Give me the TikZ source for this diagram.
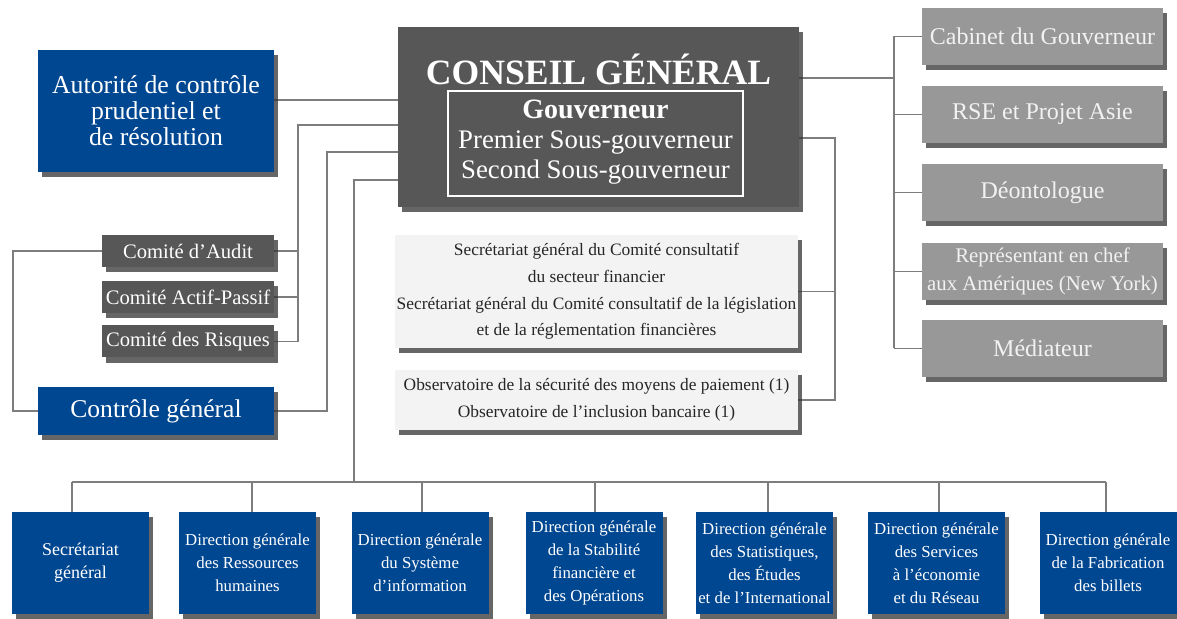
\documentclass[tikz,border=0pt]{standalone}
\usepackage{fontspec}
\setmainfont{Liberation Serif}
\usetikzlibrary{shadows, backgrounds}
\definecolor{bdfblue}{RGB}{0,71,145}
\definecolor{bdfdark}{RGB}{87,87,87}
\definecolor{bdfgrey}{RGB}{152,152,152}
\definecolor{bdflight}{RGB}{243,243,243}
\definecolor{bdfline}{RGB}{125,125,125}
\tikzset{
  shd/.style={drop shadow={shadow xshift=2.2pt,shadow yshift=-2.6pt,fill=black!80,opacity=.75}},
  blk/.style={shd,inner sep=0pt,align=center,text=white},
  bluebox/.style={blk,fill=bdfblue},
  darkbox/.style={blk,fill=bdfdark},
  greybox/.style={blk,fill=bdfgrey,text=white!95!black,minimum width=120.5pt,minimum height=28.5pt,font=\fontsize{12}{14}\selectfont},
  lightbox/.style={blk,fill=bdflight,text=black!85,minimum width=201.5pt,font=\fontsize{8.7}{13.3}\selectfont},
  dirbox/.style={bluebox,minimum width=68.5pt,minimum height=51pt,font=\fontsize{8.4}{11.5}\selectfont},
  combox/.style={darkbox,minimum width=86pt,minimum height=16pt,font=\fontsize{10.3}{12}\selectfont},
  link/.style={draw=bdfline,line width=.6pt}}

\begin{document}
\begin{tikzpicture}[x=0.5pt,y=-0.5pt]
\useasboundingbox (0,0) rectangle (1177,619);
% conseil and its left side
\node[bluebox,minimum width=118pt,minimum height=61pt,font=\fontsize{12.9}{13}\selectfont] (acpr) at (156,111) {Autorité de contrôle\\prudentiel et\\de résolution};
\node[darkbox,minimum width=200.5pt,minimum height=90pt] (conseil) at (598.5,117) {};
\node[text=white,inner sep=0pt,font=\bfseries\fontsize{17.8}{20}\selectfont] (titre) at (598.5,69) {CONSEIL GÉNÉRAL};
\node[draw=white,line width=.8pt,minimum width=147.5pt,minimum height=52.5pt,align=center,text=white,inner sep=0pt,font=\fontsize{13.4}{15}\selectfont] (gouv) at (595.5,143.5) {{\bfseries\fontsize{14}{15}\selectfont Gouverneur}\\Premier Sous-gouverneur\\Second Sous-gouverneur\rule[-4pt]{0pt}{4pt}};
\node[combox] (audit) at (188,251) {Comité d’Audit};
\node[combox] (actif) at (188,297) {Comité Actif-Passif};
\node[combox] (risques) at (188,341.5) {Comité des Risques};
\node[bluebox,minimum width=118pt,minimum height=24pt,font=\fontsize{12.8}{14}\selectfont] (controle) at (156,411) {Contrôle général};
% right column
\node[greybox] (cab) at (1042.5,36.5) {Cabinet du Gouverneur};
\node[greybox] (rse) at (1042.5,114.5) {RSE et Projet Asie};
\node[greybox] (deo) at (1042.5,192.5) {Déontologue};
\node[greybox,font=\fontsize{10.4}{14}\selectfont] (rep) at (1042.5,271.5) {Représentant en chef\\aux Amériques (New York)};
\node[greybox] (med) at (1042.5,348.5) {Médiateur};
% centre
\node[lightbox,minimum height=56.5pt] (secr) at (596.5,291.5) {Secrétariat général du Comité consultatif\\du secteur financier\\Secrétariat général du Comité consultatif de la législation\\et de la réglementation financières};
\node[lightbox,minimum height=30pt] (obs) at (596.5,400) {Observatoire de la sécurité des moyens de paiement (1)\\Observatoire de l’inclusion bancaire (1)};
% directions
\node[dirbox,font=\fontsize{9}{11.5}\selectfont] (d1) at (80.5,563) {Secrétariat\\général};
\node[dirbox] (d2) at (247.5,563) {Direction générale\\des Ressources\\humaines};
\node[dirbox] (d3) at (420,563) {Direction générale\\du Système\\d’information};
\node[dirbox] (d4) at (594,563) {Direction générale\\de la Stabilité\\financière et\\des Opérations};
\node[dirbox] (d5) at (764.5,563) {Direction générale\\des Statistiques,\\des Études\\et de l’International};
\node[dirbox] (d6) at (936.5,563) {Direction générale\\des Services\\à l’économie\\et du Réseau};
\node[dirbox] (d7) at (1108,563) {Direction générale\\de la Fabrication\\des billets};

\coordinate (bAcpr) at (0,100);
\coordinate (bCom) at (298,125);
\coordinate (bCtl) at (327,152);
\coordinate (bDir) at (354,180);
\coordinate (bBus) at (354,482);
\coordinate (bAud) at (13,252);
\coordinate (bCab) at (894,78);
\coordinate (bSec) at (835,138);
\coordinate (s1) at (72,482);\coordinate (s2) at (252,482);\coordinate (s3) at (422,482);
\coordinate (s4) at (595,482);\coordinate (s5) at (768,482);\coordinate (s6) at (939,482);
\coordinate (s7) at (1106,482);

\begin{scope}[on background layer]
\draw[link] (acpr.east |- bAcpr) -- (conseil.west |- bAcpr);
\draw[link] (conseil.west |- bCom) -- (bCom) |- (risques.east);
\draw[link] (audit.east) -- (bCom |- audit.east);
\draw[link] (actif.east) -- (bCom |- actif.east);
\draw[link] (conseil.west |- bCtl) -- (bCtl) |- (controle.east);
\draw[link] (audit.west) -- (bAud |- audit.west) |- (controle.west);
\draw[link] (conseil.west |- bDir) -- (bDir) -- (bBus);
% bus to the directions
\draw[link] (s1) -- (s7);
\draw[link] (s1) -- (s1 |- d1.north);\draw[link] (s2) -- (s2 |- d2.north);
\draw[link] (s3) -- (s3 |- d3.north);\draw[link] (s4) -- (s4 |- d4.north);
\draw[link] (s5) -- (s5 |- d5.north);\draw[link] (s6) -- (s6 |- d6.north);
\draw[link] (s7) -- (s7 |- d7.north);
% right side
\draw[link] (conseil.east |- bCab) -- (bCab);
\draw[link] (bCab |- cab.west) -- (bCab |- med.west);
\draw[link] (bCab |- cab.west) -- (cab.west);
\draw[link] (bCab |- rse.west) -- (rse.west);
\draw[link] (bCab |- deo.west) -- (deo.west);
\draw[link] (bCab |- rep.west) -- (rep.west);
\draw[link] (bCab |- med.west) -- (med.west);
\draw[link] (conseil.east |- bSec) -- (bSec) |- (obs.east);
\draw[link] (secr.east) -- (bSec |- secr.east);
\end{scope}
\end{tikzpicture}
\end{document}
